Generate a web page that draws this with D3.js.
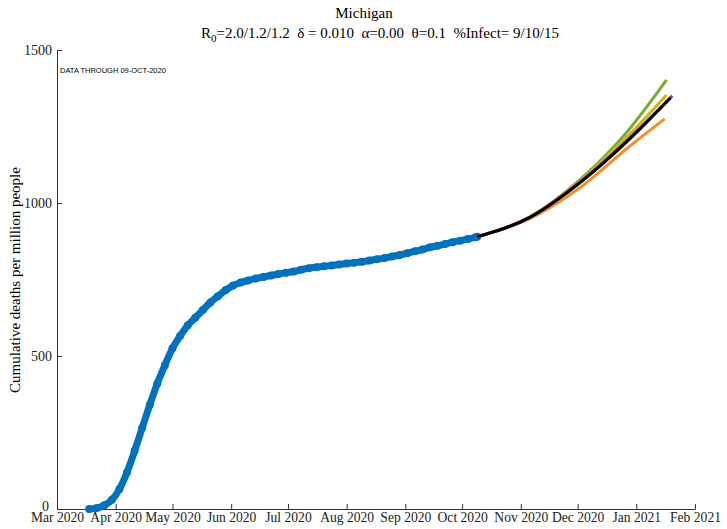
<!DOCTYPE html>
<html><head><meta charset="utf-8">
<script src="https://cdn.jsdelivr.net/npm/d3@7"></script>
<style>body{margin:0;background:#fff}svg{font-family:"Liberation Serif","Times New Roman",serif}</style>
</head><body><svg id="c" width="727" height="529"></svg>
<script>
const obsStart = "2020-03-18";
const obsStepDays = 4;
const observed = [0,3,12,30,65,120,190,265,340,410,470,525,565,600,625,650,675,695,715,730,740,747,753,758,763,768,772,776,782,787,790,793,796,799,802,805,808,812,816,820,825,830,836,842,848,855,860,866,872,877,882,888];
const projDates = ["2020-10-09","2020-11-06","2020-12-02","2020-12-28"];
const projSeries = [
 {name:"green", color:"#77ac30", vals:[890,956,1075,1239], end:["2021-01-17",1402]},
 {name:"yellow", color:"#d4b800", vals:[890,955,1070,1222], end:["2021-01-17",1353]},
 {name:"orange", color:"#f28e2b", vals:[890,950,1049,1183], end:["2021-01-16",1275]},
 {name:"purple", color:"#7e2fd0", vals:[890,954,1067,1210], end:["2021-01-20",1350]},
 {name:"black", color:"#000000", vals:[890,954,1065,1206], end:["2021-01-19",1343]}
];
const yTicks = [0,500,1000,1500];
const monthTicks = ["2020-03-01","2020-04-01","2020-05-01","2020-06-01","2020-07-01","2020-08-01","2020-09-01","2020-10-01","2020-11-01","2020-12-01","2021-01-01","2021-02-01"];

const svg = d3.select("#c");
const P = d3.timeParse("%Y-%m-%d");
const x = d3.scaleTime().domain([P("2020-03-01"),P("2021-02-01")]).range([57,695]);
const y = d3.scaleLinear().domain([0,1500]).range([509,50]);

const xa = svg.append("g").attr("transform","translate(0,509)")
 .call(d3.axisBottom(x).tickValues(monthTicks.map(P)).tickFormat(d3.timeFormat("%b %Y")).tickSizeInner(-5).tickSizeOuter(0).tickPadding(4));
const ya = svg.append("g").attr("transform","translate(57,0)")
 .call(d3.axisLeft(y).tickValues(yTicks).tickFormat(d3.format("d")).tickSizeInner(-5).tickSizeOuter(0).tickPadding(5));
[xa,ya].forEach(a=>{a.selectAll("text").attr("font-family","Liberation Serif").attr("font-size",14).attr("fill","#222");
 a.selectAll("line,path").attr("stroke","#333");});
xa.selectAll("text").attr("dy","0.68em").attr("font-size",13.6);
ya.selectAll("text").filter(d=>d===0).attr("dy","0.1em").attr("dx","-3");

const obs = observed.map((v,i)=>({d:d3.timeDay.offset(P(obsStart),i*obsStepDays),v}));
obs.push({d:P("2020-10-09"),v:890});
svg.append("path").datum(obs).attr("fill","none").attr("stroke","#0072bd").attr("stroke-width",7)
 .attr("d",d3.line().x(d=>x(d.d)).y(d=>y(d.v)).curve(d3.curveMonotoneX));
svg.selectAll("circle.o").data(obs).join("circle").attr("cx",d=>x(d.d)).attr("cy",d=>y(d.v)).attr("r",4).attr("fill","#0072bd");

const ln = d3.line().x(d=>x(d[0])).y(d=>y(d[1])).curve(d3.curveMonotoneX);
projSeries.forEach(s=>{
 const pts = projDates.map((d,i)=>[P(d),s.vals[i]]).concat([[P(s.end[0]),s.end[1]]]);
 svg.append("path").datum(pts).attr("fill","none").attr("stroke",s.color).attr("stroke-width",3).attr("d",ln);
});

svg.append("text").attr("x",364).attr("y",18).attr("text-anchor","middle").attr("font-size",15).text("Michigan");
const t = svg.append("text").attr("x",380).attr("y",38).attr("text-anchor","middle").attr("font-size",15).attr("xml:space","preserve");
t.append("tspan").text("R");
t.append("tspan").attr("font-size",11).attr("dy",4).text("0");
t.append("tspan").attr("dy",-4).text("=2.0/1.2/1.2  δ = 0.010  α=0.00  θ=0.1  %Infect= 9/10/15");
svg.append("text").attr("x",60).attr("y",73).attr("font-family","Liberation Sans").attr("font-size",7.5).text("DATA THROUGH 09-OCT-2020");
svg.append("text").attr("transform","translate(20,280) rotate(-90)").attr("text-anchor","middle").attr("font-size",15).text("Cumulative deaths per million people");
</script></body></html>
